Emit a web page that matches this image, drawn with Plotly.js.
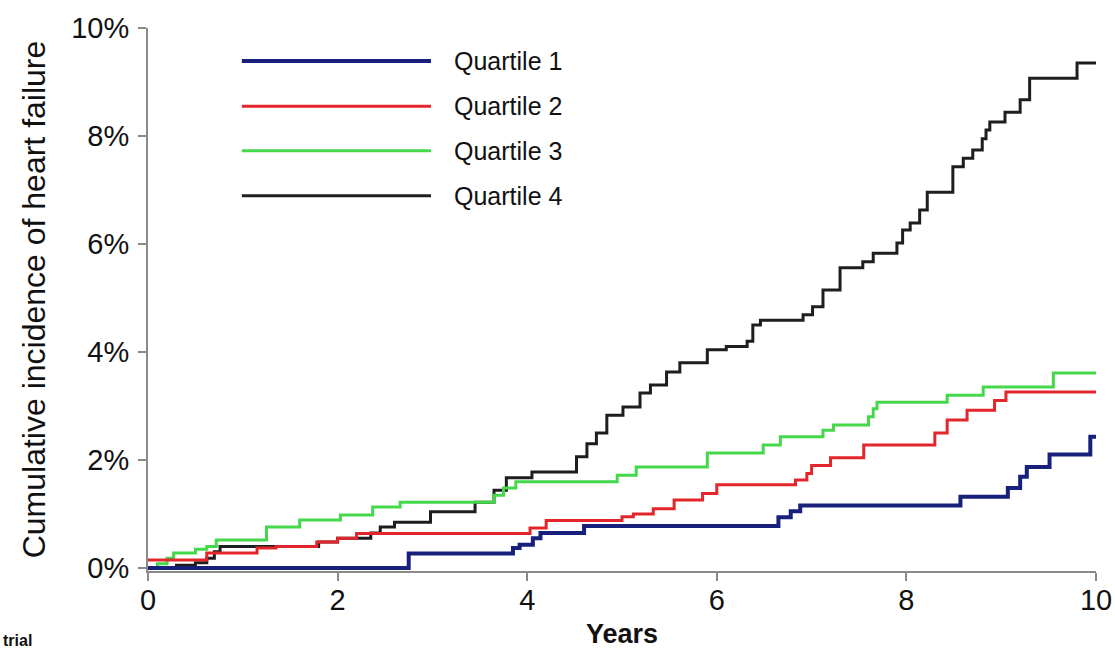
<!DOCTYPE html>
<html>
<head>
<meta charset="utf-8">
<script src="https://cdn.plot.ly/plotly-3.0.1.min.js"></script>
<style>
  html, body { margin: 0; padding: 0; background: #ffffff; }
  #chart { width: 1115px; height: 649px; }
</style>
</head>
<body>
<div id="chart"></div>
<script>
// ---- Data (years, cumulative incidence in %) ----
const seriesNames = ["Quartile 1", "Quartile 2", "Quartile 3", "Quartile 4"];
const seriesColors = ["#17207a", "#e3262b", "#45d84b", "#1e1e1e"];

const q1Years = [0, 2.75, 3.85, 3.92, 4.06, 4.14, 4.6, 6.65, 6.78, 6.88, 8.57, 9.07, 9.2, 9.27, 9.51, 9.94, 10];
const q1Inc   = [0, 0.27, 0.37, 0.43, 0.55, 0.65, 0.78, 0.94, 1.05, 1.16, 1.32, 1.48, 1.69, 1.87, 2.1, 2.43, 2.43];

const q2Years = [0, 0.62, 1.15, 1.35, 1.78, 2.0, 2.2, 4.03, 4.2, 5.0, 5.12, 5.33, 5.55, 5.85, 6.0, 6.83, 6.95, 7.0, 7.2, 7.55, 8.3, 8.43, 8.64, 8.93, 9.05, 10];
const q2Inc   = [0.15, 0.28, 0.37, 0.4, 0.48, 0.55, 0.64, 0.74, 0.88, 0.95, 1.0, 1.1, 1.26, 1.38, 1.54, 1.63, 1.75, 1.9, 2.04, 2.28, 2.5, 2.74, 2.92, 3.1, 3.26, 3.26];

const q3Years = [0, 0.1, 0.2, 0.27, 0.5, 0.62, 0.72, 1.25, 1.6, 2.03, 2.37, 2.66, 3.65, 3.75, 3.88, 4.95, 5.15, 5.9, 6.49, 6.67, 7.12, 7.23, 7.6, 7.65, 7.69, 8.43, 8.81, 9.55, 10];
const q3Inc   = [0, 0.08, 0.18, 0.28, 0.35, 0.4, 0.52, 0.76, 0.89, 0.98, 1.13, 1.22, 1.35, 1.48, 1.6, 1.72, 1.87, 2.13, 2.28, 2.43, 2.55, 2.65, 2.8, 2.95, 3.07, 3.2, 3.35, 3.61, 3.61];

const q4Years = [0, 0.3, 0.5, 0.62, 0.7, 0.76, 1.8, 2.0, 2.35, 2.45, 2.6, 2.98, 3.45, 3.65, 3.78, 4.05, 4.52, 4.63, 4.73, 4.84, 5.01, 5.19, 5.3, 5.47, 5.61, 5.9, 6.1, 6.32, 6.38, 6.46, 6.91, 7.01, 7.12, 7.3, 7.54, 7.65, 7.9, 7.96, 8.04, 8.14, 8.22, 8.49, 8.6, 8.7, 8.8, 8.84, 8.88, 9.04, 9.2, 9.3, 9.8, 10];
const q4Inc   = [0, 0.05, 0.1, 0.18, 0.3, 0.4, 0.48, 0.55, 0.65, 0.76, 0.85, 1.04, 1.22, 1.44, 1.67, 1.78, 2.06, 2.3, 2.5, 2.83, 2.98, 3.24, 3.39, 3.63, 3.8, 4.04, 4.1, 4.2, 4.5, 4.59, 4.69, 4.84, 5.15, 5.56, 5.67, 5.83, 6.02, 6.26, 6.39, 6.63, 6.96, 7.43, 7.59, 7.74, 7.95, 8.11, 8.26, 8.44, 8.67, 9.07, 9.35, 9.35];

const yTickVals = [0, 2, 4, 6, 8, 10];
const yTickText = ["0%", "2%", "4%", "6%", "8%", "10%"];
const xTickVals = [0, 2, 4, 6, 8, 10];

const xs = [q1Years, q2Years, q3Years, q4Years];
const ys = [q1Inc, q2Inc, q3Inc, q4Inc];
const widths = [4, 3, 3, 3];

// draw order: keep Q1 last so the blue line sits on top at 0
const order = [3, 2, 1, 0];
const traces = order.map(i => ({
  type: "scatter",
  mode: "lines",
  name: seriesNames[i],
  x: xs[i],
  y: ys[i],
  line: { color: seriesColors[i], width: widths[i], shape: "hv" },
  showlegend: false,
  hoverinfo: "x+y+name"
}));

// custom legend (long line samples as in the reference)
const legendRowsY = [0.939, 0.856, 0.774, 0.691];
const shapes = seriesNames.map((n, i) => ({
  type: "line", xref: "paper", yref: "paper",
  x0: 0.099, x1: 0.2985, y0: legendRowsY[i], y1: legendRowsY[i],
  line: { color: seriesColors[i], width: widths[i] }
}));
const annotations = seriesNames.map((n, i) => ({
  xref: "paper", yref: "paper", x: 0.3205, y: legendRowsY[i],
  xanchor: "left", yanchor: "middle", showarrow: false,
  text: n, font: { family: "Liberation Sans, Arial, sans-serif", size: 25, color: "#111111" }
}));
annotations.push({
  xref: "paper", yref: "paper", x: -0.155, y: -0.148,
  xanchor: "left", yanchor: "bottom", showarrow: false,
  text: "<b>trial</b>", font: { family: "Liberation Sans, Arial, sans-serif", size: 16, color: "#111111" }
});

const axisFont = { family: "Liberation Sans, Arial, sans-serif", size: 29, color: "#111111" };

const layout = {
  width: 1115, height: 649,
  margin: { l: 148, r: 19, t: 28, b: 78, pad: 0 },
  paper_bgcolor: "#ffffff",
  plot_bgcolor: "#ffffff",
  showlegend: false,
  xaxis: {
    range: [0, 10],
    tickvals: xTickVals,
    showgrid: false, zeroline: false,
    showline: true, linecolor: "#8a8a8a", linewidth: 2,
    ticks: "outside", ticklen: 8, tickwidth: 2, tickcolor: "#8a8a8a",
    tickfont: axisFont,
    ticklabelstandoff: -6,
    title: { text: "<b>Years</b>", font: { family: "Liberation Sans, Arial, sans-serif", size: 27, color: "#111111" }, standoff: 24 }
  },
  yaxis: {
    range: [-0.055, 10],
    tickvals: yTickVals, ticktext: yTickText,
    showgrid: false, zeroline: false,
    showline: true, linecolor: "#8a8a8a", linewidth: 2,
    ticks: "outside", ticklen: 8, tickwidth: 2, tickcolor: "#8a8a8a",
    tickfont: axisFont,
    ticklabelstandoff: 3,
    title: { text: "Cumulative incidence of heart failure", font: { family: "Liberation Sans, Arial, sans-serif", size: 32, color: "#111111" }, standoff: 16 }
  },
  shapes: shapes,
  annotations: annotations
};

Plotly.newPlot("chart", traces, layout, { displayModeBar: false, staticPlot: true });
</script>
</body>
</html>
